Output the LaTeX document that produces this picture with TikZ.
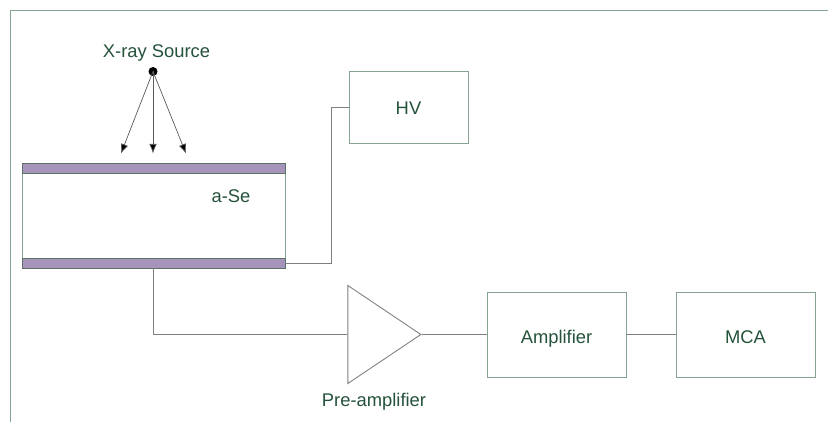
\documentclass[tikz,border=0pt]{standalone}
\usepackage{fontspec}
\setmainfont{Liberation Sans}
\usepackage{tikz}
\usetikzlibrary{arrows.meta,shapes.geometric}
\definecolor{labelgreen}{HTML}{24523A}
\definecolor{boxline}{HTML}{86A392}
\definecolor{wire}{HTML}{7F7F7F}
\definecolor{plate}{HTML}{A794BB}
\tikzset{
	box/.style={draw=boxline, line width=0.5pt, minimum width=#1, inner sep=0pt, text=labelgreen},
	band/.style={draw=boxline!70!black, line width=0.5pt, fill=plate, minimum width=5.26cm, minimum height=0.2cm, inner sep=0pt},
	label/.style={text=labelgreen, inner sep=0pt},
	wire/.style={draw=wire, line width=0.5pt},
	ray/.style={draw=black!65, line width=0.4pt, -{Latex[length=0.19cm,width=0.15cm,fill=black]}}
}
\begin{document}
\begin{tikzpicture}[every node/.style={font=\fontsize{10.45pt}{12pt}\selectfont}]
			\useasboundingbox (0,0) rectangle (16.56,-8.44);
			\coordinate (framea) at (0.2,-8.44);
			\coordinate (frameb) at (0.2,-0.2);
			\coordinate (framec) at (16.56,-0.2);
			\draw[draw=boxline, line width=0.5pt] (framea)--(frameb)--(framec);
			
			\node[label] (source) at (3.13,-1.07) {X-ray Source};
			\node[circle, fill=black, inner sep=0pt, minimum size=0.18cm] (dot) at (3.06,-1.43) {};
			\coordinate (ray1) at (2.42,-3.07);
			\coordinate (ray2) at (3.06,-3.07);
			\coordinate (ray3) at (3.72,-3.07);
			\draw[ray] (dot.center)--(ray1);
			\draw[ray] (dot.center)--(ray2);
			\draw[ray] (dot.center)--(ray3);
			
			\node[box=5.26cm, minimum height=2.1cm] (se) at (3.07,-4.31) {};
			\node[band] (top) at (3.07,-3.36) {};
			\node[band] (bottom) at (3.07,-5.26) {};
			\node[label] (selabel) at (4.62,-3.92) {a-Se};
			
			\node[box=2.38cm, minimum height=1.44cm, text height=10pt, text depth=1pt] (hv) at (8.17,-2.14) {HV};
			\node[draw=wire, line width=0.5pt, isosceles triangle, isosceles triangle stretches, inner sep=0pt, minimum width=1.96cm, minimum height=1.46cm, anchor=apex] (pre) at (8.44,-6.69) {};
			\node[label] (prelabel) at (7.48,-8.03) {Pre-amplifier};
			\node[box=2.78cm, minimum height=1.7cm, text height=11pt, text depth=1pt] (amp) at (11.13,-6.69) {Amplifier};
			\node[box=2.78cm, minimum height=1.7cm, text height=11pt, text depth=1pt] (mca) at (14.91,-6.69) {MCA};
			
			\coordinate (corner) at (6.62,-2.14);
			\draw[wire] (bottom.east)-|(corner)--(hv.west);
			\draw[wire] (bottom.south)|-(pre.west);
			\draw[wire] (pre.apex)--(amp.west);
			\draw[wire] (amp.east)--(mca.west);
\end{tikzpicture}
\end{document}
